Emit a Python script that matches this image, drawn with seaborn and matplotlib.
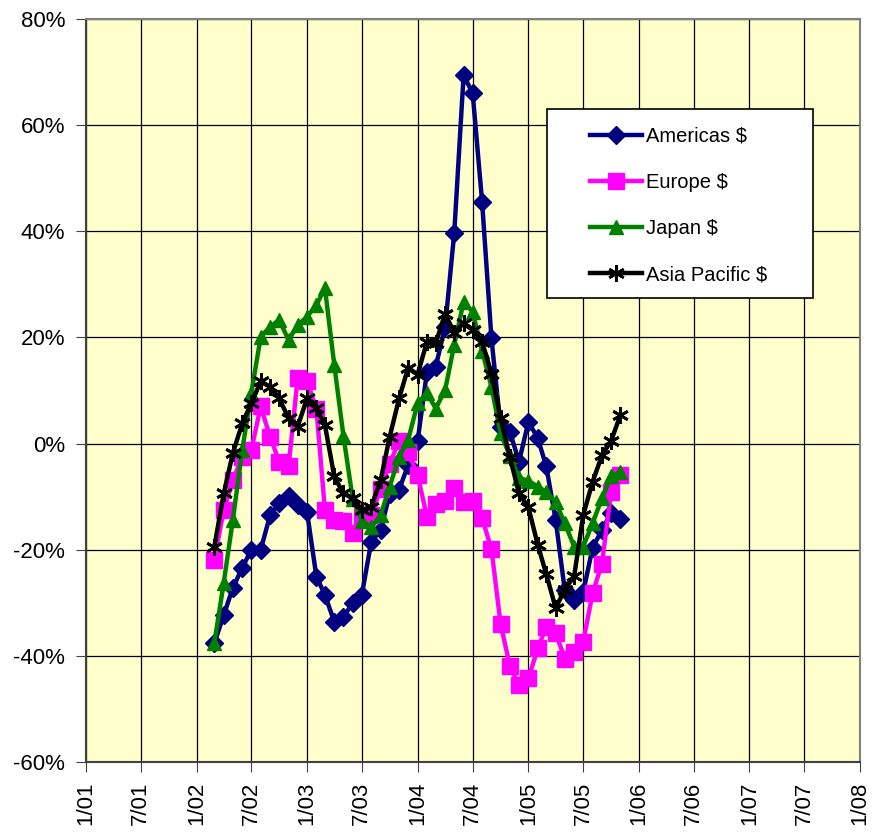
import pandas as pd
import seaborn as sns
import matplotlib.pyplot as plt
import matplotlib.dates as mdates
from matplotlib.patches import Rectangle
from matplotlib.ticker import FuncFormatter, MultipleLocator

plt.rcParams['font.family'] = ['Liberation Sans', 'DejaVu Sans']

# monthly data, Mar 2002 .. Nov 2005 (% growth)
months = pd.date_range("2002-03-01", periods=45, freq="MS")

americas = [-37.6, -32.3, -27.2, -23.4, -20.0, -20.0, -13.5, -11.2, -9.8, -11.6,
            -12.9, -25.1, -28.5, -33.6, -32.7, -30.0, -28.5, -18.5, -16.3, -9.5,
            -8.7, -4.0, 0.4, 13.5, 14.5, 22.0, 39.6, 69.4, 66.0, 45.6,
            19.8, 3.2, 2.2, -3.4, 4.1, 1.0, -4.3, -14.4, -27.6, -29.5,
            -28.0, -19.6, -16.3, -13.0, -14.3]
europe = [-21.9, -12.5, -6.9, -2.5, -1.2, 7.0, 1.3, -3.4, -4.3, 12.3,
          11.8, 6.5, -12.5, -14.4, -14.6, -16.9, -13.8, -13.5, -8.5, -3.8,
          0.5, -1.6, -5.9, -13.8, -11.3, -10.9, -8.4, -11.0, -10.8, -14.0,
          -19.9, -33.9, -42.0, -45.5, -44.2, -38.6, -34.5, -35.7, -40.5, -39.2,
          -37.3, -28.2, -22.6, -9.1, -5.9]
japan = [-37.5, -26.2, -14.4, -1.2, 9.5, 20.1, 22.0, 23.3, 19.5, 22.3,
         23.9, 26.1, 29.3, 14.8, 1.5, -10.5, -14.5, -15.8, -13.5, -8.1,
         -2.5, 0.7, 7.6, 9.5, 6.6, 10.1, 18.6, 26.7, 24.8, 17.5,
         10.7, 1.9, -2.3, -6.5, -7.0, -8.1, -9.1, -11.0, -15.0, -19.4,
         -19.4, -15.0, -10.3, -6.2, -5.3]
asia = [-19.4, -9.4, -1.8, 3.8, 7.6, 11.7, 10.7, 8.5, 4.8, 3.2,
        8.5, 6.7, 3.5, -6.2, -9.4, -10.3, -12.5, -11.9, -6.9, 1.3,
        8.5, 14.3, 13.0, 19.2, 18.9, 24.5, 20.8, 22.7, 21.4, 19.2,
        13.2, 4.8, -2.6, -9.4, -12.0, -19.1, -24.6, -31.0, -27.5, -25.0,
        -13.5, -7.2, -2.2, 0.5, 5.4]

series_names = ["Americas $", "Europe $", "Japan $", "Asia Pacific $"]
series_values = [americas, europe, japan, asia]
colors = ["#000080", "#FF00FF", "#008000", "#000000"]
markers = ["D", "s", "^", (6, 2, 0)]
msizes = [9, 11, 10, 12]

fig, ax = plt.subplots(figsize=(8.9, 8.32), dpi=100)
fig.subplots_adjust(left=0.0966, right=0.9663, top=0.9772, bottom=0.0841)
ax.set_facecolor("#FFFFCC")

for name, vals, col, mk, ms in zip(series_names, series_values, colors, markers, msizes):
    df = pd.DataFrame({"date": months, "value": vals})
    sns.lineplot(data=df, x="date", y="value", ax=ax, color=col, linewidth=3.2,
                 marker=mk, markersize=ms, markeredgecolor=col,
                 markeredgewidth=2 if mk == (6, 2, 0) else 1, label=name)

ax.set_xlim(pd.Timestamp("2001-01-01"), pd.Timestamp("2008-01-01"))
ax.set_ylim(-60, 80)
ax.yaxis.set_major_locator(MultipleLocator(20))
ax.yaxis.set_major_formatter(FuncFormatter(lambda v, p: f"{v:.0f}%"))
ax.xaxis.set_major_locator(mdates.MonthLocator(bymonth=[1, 7]))
ax.xaxis.set_major_formatter(FuncFormatter(
    lambda v, p: f"{mdates.num2date(v).month}/{mdates.num2date(v):%y}"))
ax.tick_params(axis="x", rotation=90, labelsize=16, length=7, pad=7, color="#404040")
ax.tick_params(axis="y", labelsize=16, length=7, pad=8, color="#404040")
ax.set_xlabel("")
ax.set_ylabel("")
ax.grid(True, color="black", linewidth=0.9)
ax.set_axisbelow(True)

for side in ["left", "bottom"]:
    ax.spines[side].set_color("#404040")
    ax.spines[side].set_linewidth(1.5)
for side in ["top", "right"]:
    ax.spines[side].set_color("#808080")
    ax.spines[side].set_linewidth(1.5)

# legend box drawn separately (wider side padding than matplotlib allows)
box = Rectangle((0.5956, 0.6245), 0.3437, 0.2544, transform=ax.transAxes,
                facecolor="white", edgecolor="black", linewidth=1.2, zorder=5)
ax.add_patch(box)
leg = ax.legend(loc="upper left", bbox_to_anchor=(0.651, 0.855), borderaxespad=0,
                frameon=False, fontsize=14.5, borderpad=0,
                handlelength=2.6, labelspacing=1.35, handletextpad=0.2)
leg.set_zorder(6)

plt.savefig("out.png", dpi=100)
